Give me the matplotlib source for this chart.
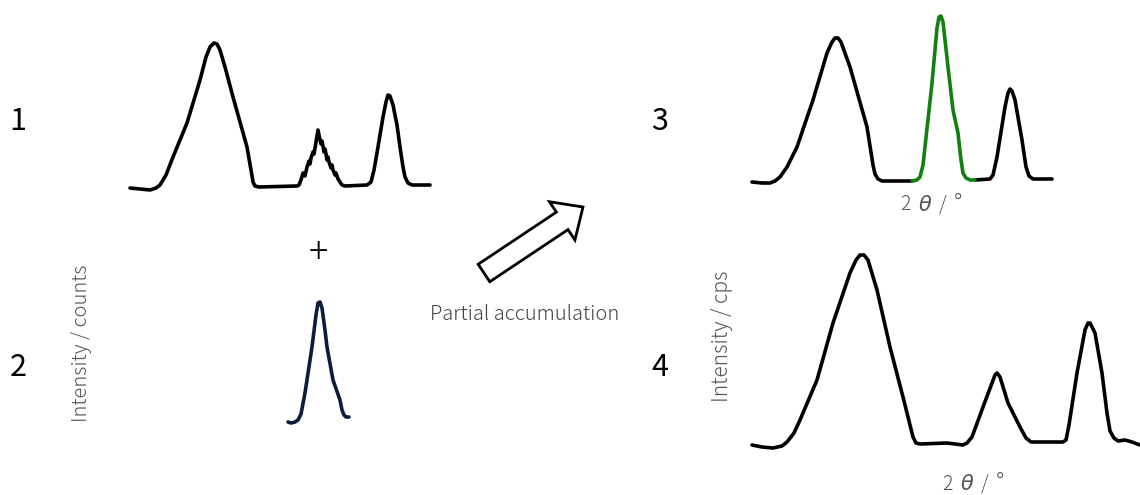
import matplotlib
matplotlib.use("Agg")
import matplotlib.pyplot as plt
from matplotlib.patches import FancyArrow

W, H = 1140, 495

# --- pattern 1: measured pattern, stepped middle reflection (counts) ---
p1_two_theta = [10, 20, 30, 36, 40, 46, 53, 67, 80, 86, 90, 94, 97, 100, 105, 113,
                127, 131, 133, 135, 139, 177,
                179, 181, 183, 184, 185, 187, 189, 190, 191, 193, 194, 195, 196, 198,
                200, 201, 202, 203, 204, 205, 206, 207, 208, 209, 211, 212, 213,
                215, 216, 218, 220, 222, 225,
                247, 251, 254, 257, 263, 266, 268, 270, 273, 277, 280, 283, 285,
                288, 292, 310]
p1_intensity = [12, 11, 10, 12, 15, 25, 43, 77, 120, 143, 153, 157, 156, 150, 133, 103,
                53, 30, 18, 14, 13, 14,
                15, 20, 27, 27, 24, 33, 39, 36, 42, 48, 46, 52, 58, 70,
                60, 56, 59, 54, 48, 51, 46, 40, 43, 38, 32, 35, 30,
                25, 27, 21, 18, 15, 14,
                15, 18, 30, 47, 83, 98, 105, 104, 95, 75, 53, 33, 23,
                17, 15, 15]

# --- pattern 2: partial accumulation of the middle reflection (counts) ---
p2_two_theta = [8, 11, 15, 18, 21, 25, 32, 36, 38, 40, 42, 45, 47, 53, 60, 62, 64, 66, 69]
p2_intensity = [8, 7, 8, 10, 16, 37, 83, 115, 127, 128, 122, 100, 83, 50, 30, 20, 15, 13, 13]

# --- pattern 3: merged result (cps) ---
p3a_two_theta = [12, 22, 30, 35, 40, 47, 57, 73, 87, 92, 95, 98, 101, 110, 127,
                 133, 135, 138, 142, 172]
p3a_intensity = [18, 17, 17, 19, 23, 33, 53, 100, 147, 158, 162, 162, 158, 133, 73,
                 35, 26, 21, 19, 19]
p3b_two_theta = [172, 177, 180, 183, 185, 192, 197, 199, 201, 203, 208, 213, 218,
                 221, 223, 226, 230, 235]
p3b_intensity = [19, 20, 23, 35, 53, 117, 172, 183, 184, 178, 133, 90, 67,
                 40, 27, 22, 20, 20]
p3c_two_theta = [235, 250, 253, 257, 265, 268, 270, 272, 275, 282, 286, 289, 293, 312]
p3c_intensity = [20, 21, 25, 43, 93, 107, 111, 109, 100, 60, 33, 24, 21, 21]

# --- pattern 4: conventional scan (cps) ---
p4_two_theta = [12, 22, 33, 42, 47, 54, 60, 77, 93, 110, 116, 120, 124, 128, 137,
                150, 163, 173, 176, 180, 207, 223, 227, 232, 243, 255, 257, 260,
                264, 268, 280, 286, 291, 297, 323, 326, 329, 337, 345, 348, 350,
                355, 362, 367, 370, 374, 378, 385, 392, 400]
p4_intensity = [10, 8, 7, 9, 13, 22, 35, 75, 132, 182, 195, 200, 200, 195, 165,
                108, 58, 18, 12, 11, 12, 10, 12, 18, 48, 80, 82, 78,
                65, 52, 28, 17, 13, 13, 13, 15, 30, 82, 125, 132, 132,
                122, 82, 42, 24, 17, 14, 15, 13, 10]

panel_numbers = ["1", "2", "3", "4"]
ylabel_counts = "Intensity / counts"
ylabel_cps = "Intensity / cps"
xlabel_parts = ["2", "θ", "/", "°"]
process_label = "Partial accumulation"

FONT = ["Noto Sans CJK JP", "DejaVu Sans"]
LW = 2.6
GREY = "#555555"

fig = plt.figure(figsize=(W / 100, H / 100), dpi=100)


def panel(left, top, width, height):
    ax = fig.add_axes([left / W, 1 - (top + height) / H, width / W, height / H])
    ax.set_xlim(0, width)
    ax.set_ylim(0, height)
    ax.axis("off")
    return ax


def ftext(x, y, s, **kw):
    kw.setdefault("family", FONT)
    fig.text(x / W, 1 - y / H, s, ha="center", va="center", **kw)


def two_theta_label(x, y):
    # "2θ / °" assembled piecewise so θ can be slanted while the rest stays upright
    ftext(x, y, xlabel_parts[0], fontsize=14, color=GREY, weight="light")
    ftext(x + 20, y, xlabel_parts[1], fontsize=15, color=GREY,
          family=["DejaVu Sans"], style="oblique", weight="light")
    ftext(x + 38, y, xlabel_parts[2], fontsize=14, color=GREY, weight="light")
    ftext(x + 53, y - 1, xlabel_parts[3], fontsize=17, color=GREY, weight="light")


line_kw = dict(lw=LW, solid_joinstyle="round", solid_capstyle="round", clip_on=False)

ax1 = panel(120, 30, 320, 170)
ax1.plot(p1_two_theta, p1_intensity, color="black", **line_kw)

ax2 = panel(280, 290, 80, 140)
ax2.plot(p2_two_theta, p2_intensity, color="#0b1c3d", **line_kw)

ax3 = panel(740, 5, 320, 195)
ax3.plot(p3a_two_theta, p3a_intensity, color="black", **line_kw)
ax3.plot(p3c_two_theta, p3c_intensity, color="black", **line_kw)
ax3.plot(p3b_two_theta, p3b_intensity, color="#118011", **line_kw)

ax4 = panel(740, 240, 400, 215)
ax4.plot(p4_two_theta, p4_intensity, color="black", **line_kw)

# overlay for the process arrow
ov = fig.add_axes([0, 0, 1, 1])
ov.set_xlim(0, W)
ov.set_ylim(H, 0)
ov.axis("off")
ov.add_patch(FancyArrow(484, 273, 99, -66, width=21, head_width=46, head_length=25,
                        length_includes_head=True, facecolor="white",
                        edgecolor="black", lw=2, joinstyle="miter"))

# labels
for s, (x, y) in zip(panel_numbers, [(18, 122), (18, 367), (660, 122), (660, 367)]):
    ftext(x, y, s, fontsize=22, color="black")
ftext(318, 253, "+", fontsize=26, color="black", weight="light")
ftext(82, 343, ylabel_counts, fontsize=14.5, color=GREY, rotation=90, weight="light")
ftext(722, 336, ylabel_cps, fontsize=15, color=GREY, rotation=90, weight="light")
two_theta_label(905, 205)
two_theta_label(947, 484)
ftext(525, 315, process_label, fontsize=14.5, color="#444444", weight="light")

fig.savefig("out.png", dpi=100)
